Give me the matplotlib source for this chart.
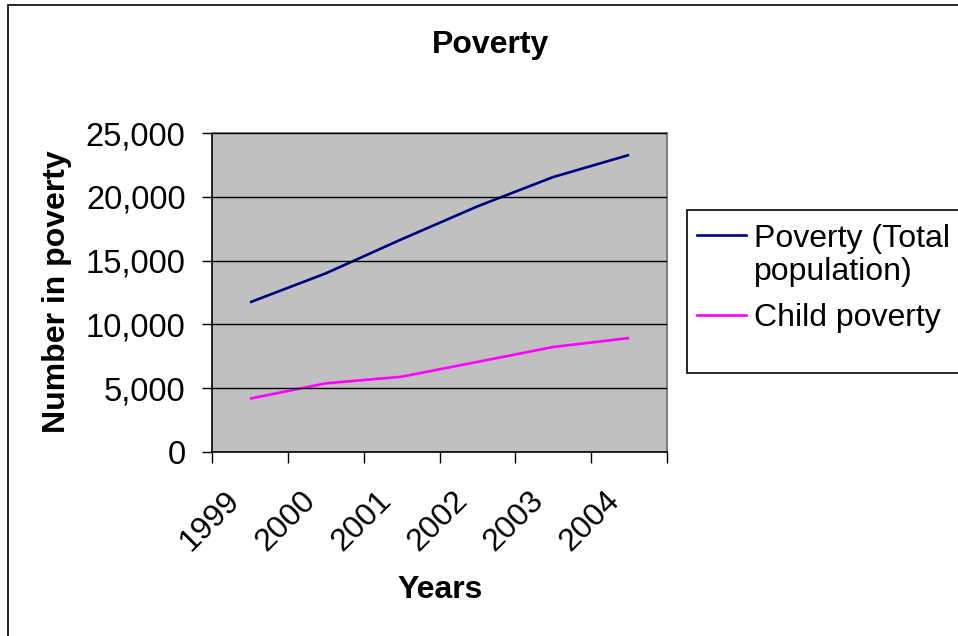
import matplotlib
matplotlib.use("Agg")
import matplotlib.pyplot as plt
from matplotlib.patches import Rectangle
from matplotlib.lines import Line2D
from matplotlib.ticker import FuncFormatter, FixedLocator
from matplotlib.transforms import ScaledTranslation

plt.rcParams['font.family'] = ['Liberation Sans', 'DejaVu Sans']

years = ['1999', '2000', '2001', '2002', '2003', '2004']
total_poverty = [11730, 14000, 16670, 19250, 21550, 23280]
child_poverty = [4180, 5380, 5900, 7060, 8230, 8930]
series_names = ['Poverty (Total\npopulation)', 'Child poverty']
y_ticks = [0, 5000, 10000, 15000, 20000, 25000]

W, H = 958, 636
fig = plt.figure(figsize=(W / 100, H / 100), dpi=100)
fig.patch.set_facecolor('white')


def fx(px):
    return px / W


def fy(py):
    return 1 - py / H


# outer chart-area border
fig.patches.append(Rectangle((fx(8), -0.1), 1.2, 1.1 - 5 / H, transform=fig.transFigure,
                             fill=False, edgecolor='black', linewidth=1.2))

ax = fig.add_axes([fx(212), fy(452), 455 / W, 319 / H])
ax.set_facecolor('#C0C0C0')

x = list(range(len(years)))
l1, = ax.plot(x, total_poverty, color='#000080', linewidth=1.9, solid_capstyle='butt')
l2, = ax.plot(x, child_poverty, color='#FF00FF', linewidth=1.9, solid_capstyle='butt')

ax.set_xlim(-0.5, len(years) - 0.5)
ax.set_ylim(0, 25000)

# y axis
ax.set_yticks(y_ticks)
ax.yaxis.set_major_formatter(FuncFormatter(lambda v, p: f"{int(v):,}"))
ax.tick_params(axis='y', direction='out', length=7, width=1, pad=12, labelsize=23.5)
ax.grid(axis='y', color='black', linewidth=1)
ax.set_axisbelow(False)

# x axis: ticks at category boundaries, labels at category centres
ax.xaxis.set_major_locator(FixedLocator([i - 0.5 for i in range(len(years) + 1)]))
ax.xaxis.set_major_formatter(FuncFormatter(lambda v, p: ''))
ax.xaxis.set_minor_locator(FixedLocator(x))
ax.set_xticklabels(years, minor=True)
ax.tick_params(axis='x', which='major', direction='out', length=8, width=1)
ax.tick_params(axis='x', which='minor', length=0, pad=18, labelsize=23)
shift = ScaledTranslation(-18 / 72, -6 / 72, fig.dpi_scale_trans)
for lab in ax.get_xticklabels(minor=True):
    lab.set_rotation(45)
    lab.set_ha('right')
    lab.set_va('top')
    lab.set_rotation_mode('anchor')
    lab.set_transform(lab.get_transform() + shift)

for side in ['left', 'bottom']:
    ax.spines[side].set_color('black')
    ax.spines[side].set_linewidth(1.2)
for side in ['right', 'top']:
    ax.spines[side].set_color('#808080')
    ax.spines[side].set_linewidth(1.5)

fig.text(fx(490), fy(45), 'Poverty', ha='center', va='center',
         fontsize=23, fontweight='bold')
fig.text(fx(57), fy(292), 'Number in poverty', ha='center', va='center',
         rotation=90, fontsize=23, fontweight='bold')
fig.text(fx(440), fy(590), 'Years', ha='center', va='center',
         fontsize=23, fontweight='bold')

# legend box; each handle sits beside the first line of its entry
fig.patches.append(Rectangle((fx(687), fy(373)), 0.5, 163 / H, transform=fig.transFigure,
                             facecolor='white', edgecolor='black', linewidth=1.2))
entries = [(l1, 235, 247), (l2, 315, 326)]
for (line, handle_y, first_base), name in zip(entries, series_names):
    fig.lines.append(Line2D([fx(697), fx(746)], [fy(handle_y), fy(handle_y)],
                            transform=fig.transFigure, color=line.get_color(),
                            linewidth=1.9))
    for k, part in enumerate(name.split('\n')):
        fig.text(fx(754), fy(first_base + 33 * k), part, ha='left', va='baseline',
                 fontsize=23)

fig.savefig('out.png', dpi=100)
